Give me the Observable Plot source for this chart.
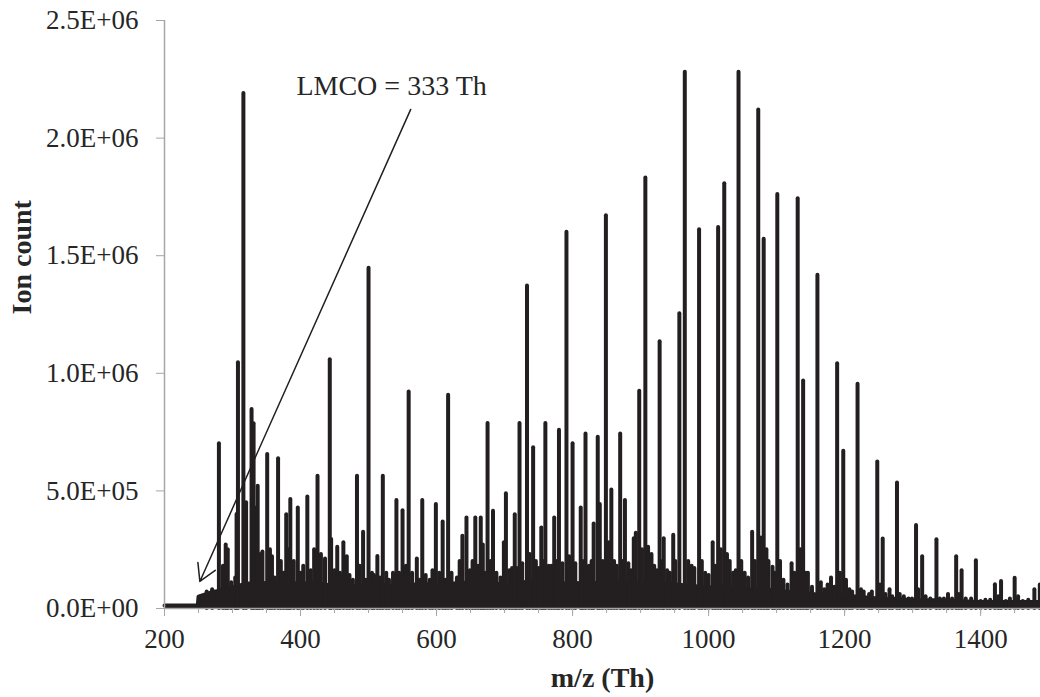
<!DOCTYPE html>
<html>
<head>
<meta charset="utf-8">
<script src="https://cdn.jsdelivr.net/npm/d3@7"></script>
<script src="https://cdn.jsdelivr.net/npm/@observablehq/plot@0.6"></script>
<style>
  html, body { margin: 0; padding: 0; background: #fff; }
</style>
</head>
<body>
<div id="chart"></div>
<script>
// ---- tick definitions ----
const xTicks = [200, 400, 600, 800, 1000, 1200, 1400];
const xMinorTicks = [200, 250, 300, 350, 400, 450, 500, 550, 600, 650, 700, 750, 800, 850, 900, 950, 1000, 1050, 1100, 1150, 1200, 1250, 1300, 1350, 1400, 1450];
const yTicks = [0, 500000, 1000000, 1500000, 2000000, 2500000];
const yTickLabels = ["0.0E+00", "5.0E+05", "1.0E+06", "1.5E+06", "2.0E+06", "2.5E+06"];

// ---- spectrum peaks [m/z, ion count] ----
const peaks = [
  [262, 70000], [270, 80000], [280, 700000], [286, 180000], [290, 270000], [293, 250000],
  [298, 110000], [304, 130000], [306, 400000], [308, 1045000], [316, 2190000], [320, 450000],
  [328, 846000], [331, 785000], [335, 427000], [337, 520000], [340, 230000], [344, 240000],
  [351, 655000], [355, 250000], [358, 220000], [362, 130000], [367, 637000], [371, 200000],
  [375, 150000], [379, 399000], [382, 250000], [385, 463000], [390, 200000], [396, 427000],
  [400, 150000], [404, 180000], [410, 474000], [415, 160000], [420, 250000], [425, 562000],
  [430, 230000], [436, 210000], [443, 1058000], [445, 293000], [450, 160000], [454, 260000],
  [458, 150000], [463, 280000], [468, 220000], [472, 140000], [477, 120000], [483, 562000],
  [487, 180000], [492, 324000], [496, 120000], [500, 1447000], [505, 150000], [508, 140000],
  [513, 221000], [517, 130000], [521, 562000], [526, 150000], [530, 120000], [536, 150000],
  [541, 459000], [545, 150000], [550, 416000], [555, 180000], [559, 921000], [564, 150000],
  [571, 210000], [575, 120000], [579, 459000], [584, 140000], [590, 120000], [594, 160000],
  [599, 442000], [604, 150000], [609, 368000], [613, 120000], [617, 907000], [622, 150000],
  [630, 130000], [634, 200000], [638, 307000], [644, 385000], [649, 160000], [653, 200000],
  [657, 385000], [661, 180000], [665, 385000], [668, 270000], [671, 150000], [675, 787000],
  [679, 200000], [683, 413000], [688, 150000], [694, 130000], [699, 280000], [702, 488000],
  [707, 160000], [711, 170000], [715, 399000], [718, 170000], [722, 787000], [726, 190000],
  [733, 1371000], [737, 230000], [742, 683000], [746, 200000], [750, 170000], [754, 342000],
  [757, 200000], [760, 787000], [765, 180000], [769, 180000], [773, 385000], [777, 200000],
  [780, 758000], [785, 190000], [791, 1600000], [795, 220000], [800, 700000], [804, 190000],
  [812, 427000], [815, 200000], [819, 742000], [824, 180000], [828, 200000], [831, 359000],
  [837, 728000], [840, 442000], [844, 200000], [849, 1670000], [853, 280000], [857, 504000],
  [861, 200000], [865, 180000], [870, 742000], [873, 200000], [877, 459000], [882, 190000],
  [886, 160000], [890, 297000], [893, 320000], [898, 924000], [902, 250000], [907, 1830000],
  [911, 260000], [916, 230000], [920, 180000], [924, 160000], [928, 1134000], [932, 200000],
  [934, 297000], [939, 160000], [943, 150000], [948, 311000], [951, 200000], [957, 1253000],
  [965, 2280000], [970, 200000], [975, 180000], [979, 170000], [986, 1610000], [990, 200000],
  [995, 150000], [1000, 140000], [1006, 280000], [1010, 180000], [1014, 1620000], [1018, 250000],
  [1023, 1806000], [1027, 230000], [1031, 200000], [1036, 150000], [1040, 160000], [1044, 2280000],
  [1048, 200000], [1053, 150000], [1058, 130000], [1064, 324000], [1068, 200000], [1073, 2120000],
  [1077, 300000], [1081, 1570000], [1085, 250000], [1088, 200000], [1094, 175000], [1097, 150000],
  [1101, 1760000], [1105, 200000], [1110, 120000], [1116, 100000], [1122, 190000], [1126, 150000],
  [1131, 1742000], [1135, 250000], [1139, 967000], [1143, 150000], [1146, 150000], [1152, 90000],
  [1160, 1417000], [1165, 110000], [1170, 80000], [1175, 100000], [1180, 130000], [1185, 90000],
  [1189, 1041000], [1193, 150000], [1198, 669000], [1202, 120000], [1207, 80000], [1211, 70000],
  [1219, 953000], [1224, 80000], [1228, 70000], [1236, 60000], [1240, 70000], [1248, 623000],
  [1252, 100000], [1256, 295000], [1260, 60000], [1266, 80000], [1270, 50000], [1277, 534000],
  [1281, 60000], [1287, 50000], [1294, 40000], [1299, 40000], [1305, 353000], [1308, 80000],
  [1314, 220000], [1319, 50000], [1326, 40000], [1335, 292000], [1340, 40000], [1346, 40000],
  [1352, 60000], [1358, 40000], [1364, 220000], [1368, 60000], [1372, 160000], [1378, 40000],
  [1386, 40000], [1393, 203000], [1400, 30000], [1407, 35000], [1414, 35000], [1421, 101000],
  [1426, 50000], [1430, 115000], [1437, 30000], [1443, 40000], [1450, 129000], [1455, 50000],
  [1462, 30000], [1470, 35000], [1479, 80000], [1487, 100000]
];

// ---- noise floor of the spectrum [m/z, ion count] ----
const floorMz = [200, 249, 250, 260, 270, 280, 290, 300, 320, 340, 360, 380, 400, 420, 440, 460, 480, 500,
  520, 540, 560, 580, 600, 620, 640, 660, 680, 700, 720, 740, 760, 780, 800, 820, 840, 860, 880, 900,
  920, 940, 960, 980, 1000, 1020, 1040, 1060, 1080, 1100, 1120, 1140, 1160, 1180, 1200, 1220, 1240,
  1260, 1280, 1300, 1320, 1340, 1360, 1380, 1400, 1420, 1440, 1460, 1488];
const floorCount = [13000, 13000, 50000, 60000, 70000, 75000, 85000, 90000, 105000, 110000, 105000, 110000,
  105000, 110000, 100000, 105000, 95000, 100000, 100000, 95000, 100000, 105000, 100000, 105000, 110000, 105000,
  110000, 100000, 110000, 115000, 110000, 105000, 110000, 105000, 110000, 105000, 110000, 105000, 100000, 105000,
  100000, 95000, 90000, 90000, 85000, 80000, 85000, 75000, 70000, 65000, 60000, 60000, 55000, 50000,
  45000, 40000, 40000, 35000, 35000, 35000, 32000, 30000, 28000, 28000, 28000, 28000, 28000];

// ---- annotation ----
const lmcoLabel = [{mz: 394, count: 2220000, text: "LMCO = 333 Th"}];
const lmcoArrow = [{mz1: 562, count1: 2122000, mz2: 252, count2: 115000}];

const floorData = floorMz.map((m, i) => ({mz: m, count: floorCount[i]}));
const peakData = peaks.map(([mz, count]) => ({mz, count}));

const ink = "#231f20";
const axisGray = "#a6a6a6";
const textColor = "#262626";

const chart = Plot.plot({
  width: 1040,
  height: 697,
  marginLeft: 164,
  marginRight: 0,
  marginTop: 20,
  marginBottom: 89,
  style: {fontFamily: "'Liberation Serif', serif", fontSize: "27px", color: textColor, background: "#fff"},
  x: {domain: [200, 1488]},
  y: {domain: [0, 2500000]},
  marks: [
    Plot.areaY(floorData, {x: "mz", y: "count", fill: ink}),
    Plot.line(floorData, {x: "mz", y: "count", stroke: ink, strokeWidth: 4}),
    Plot.ruleX(peakData, {x: "mz", y1: 0, y2: "count", stroke: ink, strokeWidth: 4, strokeLinecap: "round"}),
    Plot.ruleX([200], {stroke: axisGray, strokeWidth: 1.5}),
    Plot.ruleY([0], {stroke: axisGray, strokeWidth: 1.5}),
    Plot.axisY(yTicks, {tickSize: 8, tickPadding: 18, stroke: axisGray, fill: textColor,
      tickFormat: (d, i) => yTickLabels[i], label: null}),
    Plot.axisX(xMinorTicks, {tickSize: 5, stroke: axisGray, text: null, label: null}),
    Plot.axisX(xTicks, {tickSize: 8, tickPadding: 12, stroke: axisGray, fill: textColor,
      tickFormat: d => String(d), label: null}),
    Plot.text(["Ion count"], {frameAnchor: "left", dx: -142, rotate: -90, fontWeight: "bold",
      fontSize: 28, fill: textColor}),
    Plot.text(["m/z (Th)"], {frameAnchor: "bottom", dy: 78, fontWeight: "bold", fontSize: 28, fill: textColor}),
    Plot.arrow(lmcoArrow, {x1: "mz1", y1: "count1", x2: "mz2", y2: "count2", stroke: ink,
      strokeWidth: 1.5, headLength: 19, headAngle: 60}),
    Plot.text(lmcoLabel, {x: "mz", y: "count", text: "text", textAnchor: "start", fontSize: 28, fill: textColor})
  ]
});
document.getElementById("chart").appendChild(chart);
</script>
</body>
</html>
